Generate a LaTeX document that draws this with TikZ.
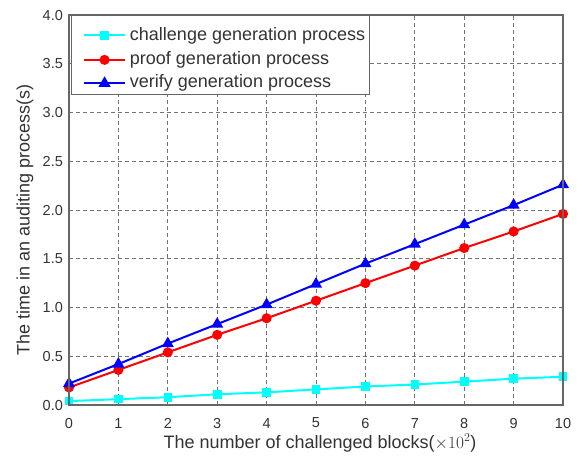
\documentclass[tikz,border=0pt]{standalone}
\usepackage{fontspec}
\setmainfont{Liberation Sans}
\usetikzlibrary{plotmarks, positioning}
\definecolor{chalcyan}{RGB}{0,255,255}
\definecolor{proofred}{RGB}{255,0,0}
\definecolor{verblue}{RGB}{0,0,255}

\begin{document}
\begin{tikzpicture}[
		x=49.4pt, y=97.5pt,
		curve/.style={line width=2pt},
		gridline/.style={black!55, dash pattern=on 4pt off 3pt, line width=1pt},
		ticklabel/.style={font=\fontsize{14.5}{16}\selectfont, text=black!80, inner sep=1pt},
		axislabel/.style={font=\fontsize{18}{20}\selectfont, text=black!80, inner sep=0pt},
		entry/.style={font=\fontsize{18}{20}\selectfont, text=black!80, anchor=west, inner sep=0pt}
		]
		\useasboundingbox (-1.397,-0.574) rectangle (10.283,4.154);
		
		% Mreza
		\foreach \i in {1,...,9} \draw[gridline] (\i,0) -- (\i,4);
		\foreach \j in {0.5,1.0,1.5,2.0,2.5,3.0,3.5} \draw[gridline] (0,\j) -- (10,\j);
		
		% Oznake osa
		\foreach \i in {0,...,10} \node[ticklabel] (xt\i) at (\i,-0.185) {\i};
		\foreach \j in {0.0,0.5,1.0,1.5,2.0,2.5,3.0,3.5,4.0} \node[ticklabel, anchor=east] (yt\j) at (-0.1,\j) {\j};
		\node[axislabel] (xlab) at (5.08,-0.39) {The number of challenged blocks(${\times}10^{2}$)};
		\node[axislabel, rotate=90] (ylab) at (-0.89,1.90) {The time in an auditing process(s)};
		
		% Krive
		\draw[curve, chalcyan, mark=square*, mark size=3.3pt] plot coordinates {(0,0.04) (1,0.06) (2,0.08) (3,0.11) (4,0.13) (5,0.16) (6,0.19) (7,0.21) (8,0.24) (9,0.27) (10,0.29)};
		\draw[curve, proofred, mark=*, mark size=4pt] plot coordinates {(0,0.18) (1,0.36) (2,0.54) (3,0.72) (4,0.89) (5,1.07) (6,1.25) (7,1.43) (8,1.61) (9,1.78) (10,1.96)};
		\draw[curve, verblue, mark=triangle*, mark size=5pt] plot coordinates {(0,0.22) (1,0.42) (2,0.63) (3,0.83) (4,1.03) (5,1.24) (6,1.45) (7,1.65) (8,1.85) (9,2.05) (10,2.26)};
		
		% Legenda
		\draw[fill=white, draw=black!60, line width=0.8pt] (0.04,3.19) rectangle (6.09,4.0);
		\node[entry] (lchal) at (1.23,3.79) {challenge generation process};
		\node[entry] (lproof) at (1.23,3.54) {proof generation process};
		\node[entry] (lver) at (1.23,3.30) {verify generation process};
		\draw[curve, chalcyan, mark=square*, mark size=3.3pt, mark indices={2}] plot coordinates {(0.30,3.79) (0.72,3.79) (1.13,3.79)};
		\draw[curve, proofred, mark=*, mark size=4pt, mark indices={2}] plot coordinates {(0.30,3.54) (0.72,3.54) (1.13,3.54)};
		\draw[curve, verblue, mark=triangle*, mark size=5pt, mark indices={2}] plot coordinates {(0.30,3.30) (0.72,3.30) (1.13,3.30)};
		
		% Okvir
		\draw[black!60, line width=1.5pt] (0,0) rectangle (10,4);
		
	\end{tikzpicture}
\end{document}
